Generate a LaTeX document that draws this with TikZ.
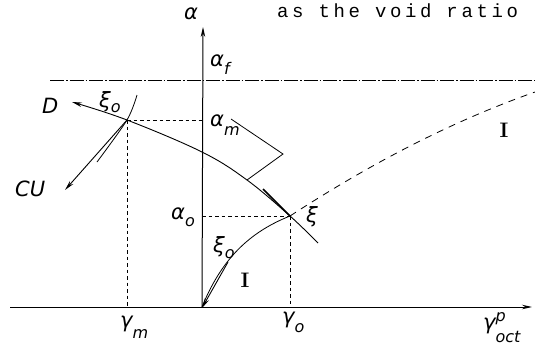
\documentclass[tikz,border=0pt]{standalone}
\usepackage{fontspec}
\newfontfamily\monofnt[LetterSpace=19]{Liberation Mono}
\newfontfamily\lblfnt{DejaVu Sans}
\usetikzlibrary{arrows.meta}
\newcommand\sbx[2]{\raisebox{-#1pt}{\fontsize{16}{16}\selectfont #2}}
\begin{document}
\begin{tikzpicture}[x=1pt,y=-1pt,
  thinline/.style={line width=0.8pt},
  axisline/.style={line width=1pt,-{Stealth[length=10pt,width=4.5pt]}},
  dashline/.style={line width=0.8pt,dash pattern=on 3.5pt off 3pt},
  arr/.style={line width=0.9pt,-{Stealth[length=10pt,width=4.5pt]}},
  lbl/.style={inner sep=0pt,anchor=base west,font=\lblfnt\itshape\fontsize{21}{22}\selectfont},
  rom/.style={inner sep=0pt,font=\bfseries\fontsize{21}{22}\selectfont}]
\useasboundingbox (0,0) rectangle (535,354);
% key points
\coordinate (O) at (202,307);
\coordinate (P) at (127,120);
\coordinate (X) at (290,216);
\coordinate (Ytop) at (203,27);
\coordinate (Xl) at (10,307);
\coordinate (Xr) at (532,307);
\coordinate (Fl) at (50,80);
\coordinate (Fr) at (535,80);
\coordinate (Dend) at (72,102);
\coordinate (Cend) at (65,190);
\coordinate (N1) at (247,180);
\coordinate (N2) at (283,154);
\coordinate (N3) at (231,119);
\coordinate (T1) at (263,189);
\coordinate (A0) at (228,262);
\coordinate (Dash) at (535,92);
\coordinate (E1) at (137,95);
\coordinate (E2) at (97,162);
\coordinate (Mend) at (318,243);
% axes
\draw[axisline] (O) -- (Ytop);
\draw[axisline] (Xl) -- (Xr);
% alpha_f line
\draw[line width=0.6pt,dash pattern=on 14pt off 2pt on 1.5pt off 2pt] (Fl) -- (Fr);
% main curve with arrow to D
\draw[arr] plot[smooth,tension=0.6] coordinates {(Mend) (X) (N1) (202,152) (P) (Dend)};
% thick tangent segment
\draw[line width=1.6pt] (T1) -- (X);
% normal polyline
\draw[thinline] (N1) -- (N2) -- (N3);
% left crossing curve xi_o
\draw[thinline] plot[smooth] coordinates {(E1) (P) (E2)};
% CU arrow
\draw[arr] (P) -- (Cend);
% curve I
\draw[thinline] (O) .. controls (222,258) and (250,232) .. (X);
\draw[line width=0.8pt,dash pattern=on 7pt off 6pt] (X) .. controls (370,164) and (450,122) .. (Dash);
% xi_o arrow at origin
\draw[arr] (A0) -- ([yshift=-1pt]O);
% dashed projections
\draw[dashline] (P) -- (P -| O);
\draw[dashline] (O |- X) -- (X);
\draw[dashline] (P) -- (P |- O);
\draw[dashline] (X) -- (X |- O);
% labels
\node[lbl] (la) at (184,19) {α};
\node[lbl] (laf) at (210,66) {α\sbx{8}{f}};
\node[lbl] (lam) at (210,126) {α\sbx{9}{m}};
\node[lbl] (lao) at (171,219) {α\sbx{7}{o}};
\node[lbl] (lxi1) at (99,107) {ξ\sbx{5}{o}};
\node[lbl] (lxi) at (306,222) {ξ};
\node[lbl] (lxi2) at (213,252) {ξ\sbx{6}{o}};
\node[rom] (lI1) at (245,280) {I};
\node[rom] (lI2) at (504,130) {I};
\node[lbl] (lD) at (42,113) {D};
\node[lbl] (lCU) at (15,196) {CU};
\node[lbl] (lgm) at (120,327) {γ\sbx{11}{m}};
\node[lbl] (lgo) at (282,323) {γ\sbx{9}{o}};
\node[lbl] (lgp) at (483,329) {γ\raisebox{-13pt}{\fontsize{16}{16}\selectfont\rlap{\raisebox{21pt}{p}}oct}};
\node[inner sep=0pt,anchor=base west,font=\monofnt\fontsize{19}{22}\selectfont] (ltxt) at (277,17) {as the void ratio};
\end{tikzpicture}
\end{document}
